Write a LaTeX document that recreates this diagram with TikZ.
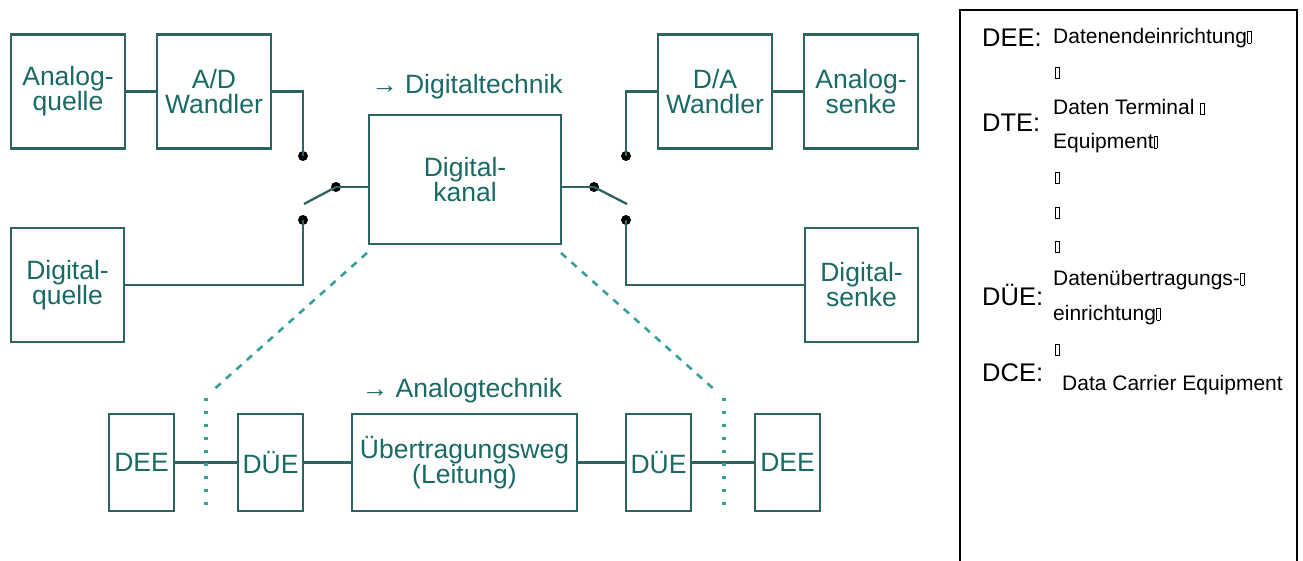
\documentclass[tikz,border=0pt]{standalone}
\usepackage{fontspec}
\setmainfont{Liberation Sans}
\definecolor{ln}{RGB}{45,100,96}
\definecolor{tx}{RGB}{25,105,100}
\definecolor{dsh}{RGB}{55,160,155}
\newcommand\ndbox{\hbox{\vrule width0.7pt\vbox to 12pt{\hrule height0.7pt width3pt\vfill\hrule height0.7pt width3pt}\vrule width0.7pt}}
\begin{document}
\begin{tikzpicture}[x=1pt,y=-1pt,
  blk/.style={draw=ln, line width=2.5pt, inner sep=0pt, minimum width=114pt, minimum height=114pt,
    text=tx, font=\fontsize{26.5}{25}\selectfont, align=center},
  sblk/.style={blk, minimum width=65pt, minimum height=97pt},
  conn/.style={draw=ln, line width=2.3pt},
  dot/.style={circle, fill=black, inner sep=0pt, minimum size=10pt},
  hd/.style={text=tx, font=\fontsize{26.5}{26}\selectfont, inner sep=0pt},
  lbl/.style={anchor=west, inner sep=0pt, font=\fontsize{25.5}{25}\selectfont},
  desc/.style={anchor=west, inner sep=0pt, font=\fontsize{21}{21}\selectfont},
  dashln/.style={draw=dsh, line width=2.6pt, dash pattern=on 7pt off 7pt},
  dotln/.style={draw=dsh, line width=3.2pt, dash pattern=on 2.5pt off 10.5pt}]
\useasboundingbox (0,0) rectangle (1303,561);
% top row
\node[blk] (aq) at (68,91.5) {Analog-\\quelle};
\node[blk] (ad) at (214,91.5) {A/D\\Wandler};
\node[blk, minimum width=113pt] (dq) at (67.5,285) {Digital-\\quelle};
\node[blk, minimum width=192pt, minimum height=129pt] (dk) at (465,179.5) {Digital-\\kanal};
\node[blk] (da) at (715,91.5) {D/A\\Wandler};
\node[blk] (as) at (861,91.5) {Analog-\\senke};
\node[blk, minimum width=113pt] (ds) at (861.5,285) {Digital-\\senke};
\node[hd] (dtech) at (467,87) {→ Digitaltechnik};
% switches
\node[dot] (swLtop) at (303,156) {};
\node[dot] (swLbot) at (303,220) {};
\node[dot] (swLpiv) at (336,187) {};
\coordinate (swLend) at (304,204);
\node[dot] (swRtop) at (626,156) {};
\node[dot] (swRbot) at (626,220) {};
\node[dot] (swRpiv) at (594,187) {};
\coordinate (swRend) at (627,204);
\draw[conn] (aq.east) -- (ad.west);
\draw[conn] (ad.east) -| (swLtop.center);
\draw[conn] (dq.east) -| (swLbot.center);
\draw[conn] (swLpiv.center) -- (swLend);
\draw[conn] (swLpiv.center) -- (swLpiv.center -| dk.west);
\draw[conn] (swRpiv.center) -- (swRpiv.center -| dk.east);
\draw[conn] (swRpiv.center) -- (swRend);
\draw[conn] (swRtop.center) |- (da.west);
\draw[conn] (swRbot.center) |- (ds.west);
\draw[conn] (da.east) -- (as.west);
% lower row
\node[sblk] (deeL) at (141.5,462.5) {DEE};
\node[sblk] (dueL) at (270.5,462.5) {DÜE};
\node[sblk, minimum width=225pt] (uw) at (464.5,462.5) {Übertragungsweg\\(Leitung)};
\node[sblk] (dueR) at (658.5,462.5) {DÜE};
\node[sblk] (deeR) at (787.5,462.5) {DEE};
\node[hd] (atech) at (462,391) {→ Analogtechnik};
\draw[conn] (deeL) -- (dueL) -- (uw) -- (dueR) -- (deeR);
% dashed / dotted
\coordinate (dLa) at (367,253);
\coordinate (dLb) at (211,392);
\coordinate (vLa) at (206,398);
\coordinate (vLb) at (206,512);
\coordinate (dRa) at (561,253);
\coordinate (dRb) at (716,391);
\coordinate (vRa) at (724,398);
\coordinate (vRb) at (724,512);
\draw[dashln] (dLa) -- (dLb);
\draw[dotln] (vLa) -- (vLb);
\draw[dashln] (dRa) -- (dRb);
\draw[dotln] (vRa) -- (vRb);
% legend
\draw[black, line width=1.5pt] (960,566) -- (960,10) -- (1297,10) -- (1297,566);
\node[lbl] (l1) at (982,38) {DEE:};
\node[desc] (d1) at (1053,38) {Datenendeinrichtung\ndbox};
\node[desc] (g1) at (1055,73) {\ndbox};
\node[desc] (d2a) at (1053,107) {Daten Terminal \ndbox};
\node[lbl] (l2) at (982,123) {DTE:};
\node[desc] (d2b) at (1053,143) {Equipment\ndbox};
\node[desc] (g2) at (1055,178) {\ndbox};
\node[desc] (g3) at (1055,213) {\ndbox};
\node[desc] (g4) at (1055,247) {\ndbox};
\node[desc] (d3a) at (1053,280) {Datenübertragungs-\ndbox};
\node[lbl] (l3) at (982,295) {DÜE:};
\node[desc] (d3b) at (1053,315) {einrichtung\ndbox};
\node[desc] (g5) at (1055,350) {\ndbox};
\node[lbl] (l4) at (982,373) {DCE:};
\node[desc] (d4) at (1062,385) {Data Carrier Equipment};
\end{tikzpicture}
\end{document}
